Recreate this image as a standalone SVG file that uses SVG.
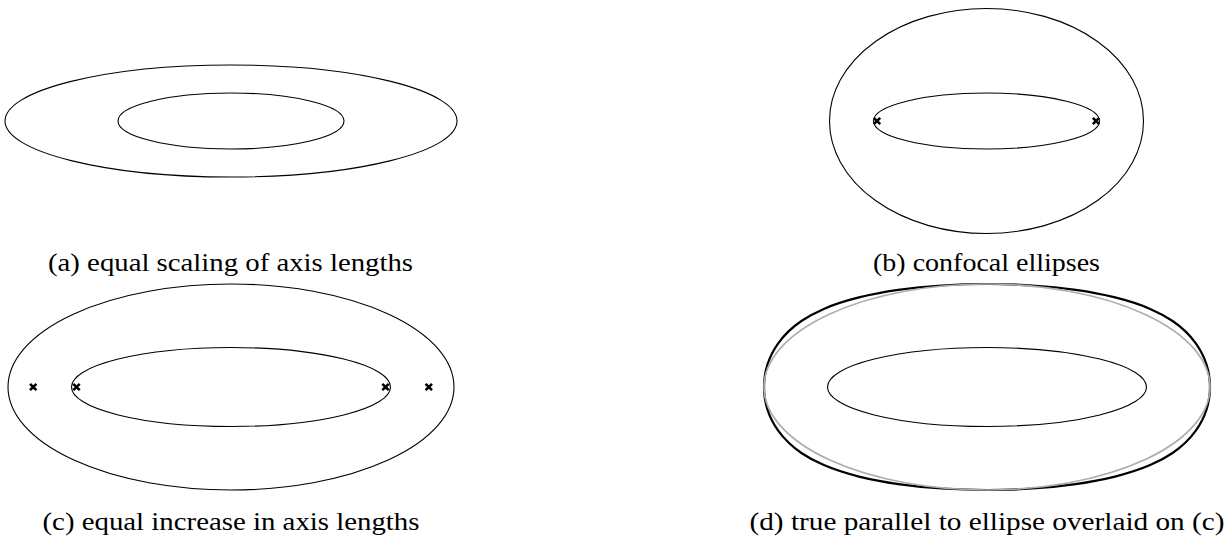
<svg xmlns="http://www.w3.org/2000/svg" width="1225" height="537" viewBox="0 0 1225 537">
<style>
.e{fill:none;stroke:#000;stroke-width:1.1}
.par{fill:none;stroke:#000;stroke-width:2.2}
.gr{fill:none;stroke:#adadad;stroke-width:1.7}
.cap{font-family:"Liberation Serif","Times New Roman",serif;font-size:26px;fill:#000;text-anchor:middle}
</style>
<defs>
<path id="x" d="M-3.2,-3.2L3.2,3.2M-3.2,3.2L3.2,-3.2" fill="none" stroke="#000" stroke-width="2.6"/>
</defs>
<rect width="1225" height="537" fill="#fff"/>
<g id="panel-a">
<ellipse class="e" cx="231" cy="121" rx="226" ry="56"/>
<ellipse class="e" cx="231" cy="121" rx="113" ry="28"/>
<text class="cap" x="230.5" y="271" textLength="365" lengthAdjust="spacingAndGlyphs">(a) equal scaling of axis lengths</text>
</g>
<g id="panel-b">
<ellipse class="e" cx="986.5" cy="121" rx="157" ry="112.5"/>
<ellipse class="e" cx="986.5" cy="121" rx="113" ry="28"/>
<use href="#x" x="877" y="121"/>
<use href="#x" x="1096" y="121"/>
<text class="cap" x="986.5" y="271" textLength="227" lengthAdjust="spacingAndGlyphs">(b) confocal ellipses</text>
</g>
<g id="panel-c">
<ellipse class="e" cx="231" cy="387" rx="223" ry="103"/>
<ellipse class="e" cx="231" cy="387" rx="159.5" ry="39.5"/>
<use href="#x" x="33.2" y="387"/>
<use href="#x" x="76.5" y="387"/>
<use href="#x" x="385.5" y="387"/>
<use href="#x" x="428.8" y="387"/>
<text class="cap" x="231" y="530" textLength="377" lengthAdjust="spacingAndGlyphs">(c) equal increase in axis lengths</text>
</g>
<g id="panel-d">
<g transform="translate(987,387)">
<path class="par" d="M223,0C223,-17.21 216.35,-33.11 208.81,-43.69C201.27,-54.27 193.19,-60.85 185.6,-66.01C178.01,-71.17 170.64,-74.9 163.16,-78.11C151.94,-82.92 140.41,-86.51 128.05,-89.57C115.69,-92.63 102.57,-95.09 88.74,-97.07C74.91,-99.05 60.39,-100.52 45.48,-101.51C30.57,-102.5 15.29,-103 0,-103C-15.29,-103 -30.57,-102.5 -45.48,-101.51C-60.39,-100.52 -74.91,-99.05 -88.74,-97.07C-102.57,-95.09 -115.69,-92.63 -128.05,-89.57C-140.41,-86.51 -151.94,-82.92 -163.16,-78.11C-170.64,-74.9 -178.01,-71.17 -185.6,-66.01C-193.19,-60.85 -201.27,-54.27 -208.81,-43.69C-216.35,-33.11 -223,-17.21 -223,0C-223,17.21 -216.35,33.11 -208.81,43.69C-201.27,54.27 -193.19,60.85 -185.6,66.01C-178.01,71.17 -170.64,74.9 -163.16,78.11C-151.94,82.92 -140.41,86.51 -128.05,89.57C-115.69,92.63 -102.57,95.09 -88.74,97.07C-74.91,99.05 -60.39,100.52 -45.48,101.51C-30.57,102.5 -15.29,103 0,103C15.29,103 30.57,102.5 45.48,101.51C60.39,100.52 74.91,99.05 88.74,97.07C102.57,95.09 115.69,92.63 128.05,89.57C140.41,86.51 151.94,82.92 163.16,78.11C170.64,74.9 178.01,71.17 185.6,66.01C193.19,60.85 201.27,54.27 208.81,43.69C216.35,33.11 223,17.21 223,0Z"/>
<ellipse class="gr" cx="0" cy="0" rx="223" ry="103"/>
<ellipse class="e" cx="0" cy="0" rx="159.5" ry="39.5"/>
</g>
<text class="cap" x="987" y="530" textLength="475" lengthAdjust="spacingAndGlyphs">(d) true parallel to ellipse overlaid on (c)</text>
</g>
</svg>
